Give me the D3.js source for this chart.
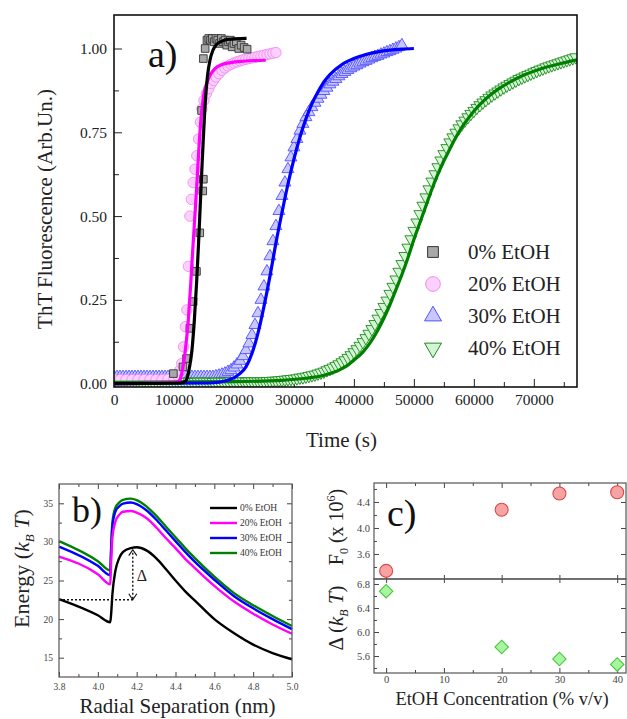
<!DOCTYPE html>
<html>
<head>
<meta charset="utf-8">
<script src="https://cdn.jsdelivr.net/npm/d3@7"></script>
<style>
  body { margin: 0; background: #fff; }
  svg { display: block; }
  svg text { font-family: "Liberation Serif", "Times New Roman", "DejaVu Serif", serif; }
</style>
</head>
<body>
<svg id="chart" width="627" height="719"></svg>
<script>
// ----------------------------
// Data
// ----------------------------
const seriesNames = ["0% EtOH", "20% EtOH", "30% EtOH", "40% EtOH"];
const seriesColors = ["#000000", "#ff00ff", "#0000ff", "#008000"];

// panel a) ThT kinetics
const timeTicks = [0, 10000, 20000, 30000, 40000, 50000, 60000, 70000];
const timeMinor = [5000, 15000, 25000, 35000, 45000, 55000, 65000, 75000];
const fluorTicks = [0, 0.25, 0.5, 0.75, 1.0];
const fluorMinor = [0.125, 0.375, 0.625, 0.875];

// measured points, [time, fluorescence]
const blackPts = [[9900,.03],[11500,.05],[12100,.075],[12650,.165],[13200,.245],[13750,.335],[14300,.45],
  [14800,.575],[14900,.61],[14600,.815],[14900,.97],[15200,1.0],[15500,1.025],[15800,1.03],[16100,1.025],
  [16400,1.03],[16700,1.02],[17000,1.03],[17300,1.025],[17600,1.015],[17900,1.03],[18200,1.02],[18500,1.025],
  [18800,1.01],[19100,1.02],[19400,1.025],[19700,1.005],[20000,1.015],[20400,1.02],[20800,1.0],[21200,1.01],
  [21700,1.003],[22200,.998]];
const pinkPts = [[0,.012],[1000,.012],[2000,.012],[3000,.012],[4000,.012],[5000,.012],[6000,.012],[7000,.012],
  [8000,.012],[9000,.013],[10000,.015],[10600,.025],[11000,.04],[11300,.06],[11600,.11],[11900,.17],[12150,.22],
  [12400,.35],[12650,.5],[12900,.55],[13200,.6],[13500,.64],[13800,.68],[14100,.73],[14400,.78],[14650,.82],
  [15000,.845],[15400,.865],[15800,.88],[16200,.895],[16600,.905],[17000,.915],[17500,.925],[18000,.935],
  [18500,.942],[19000,.948],[19500,.953],[20000,.957],[20500,.96],[21000,.963],[21500,.966],[22000,.968],
  [22500,.97],[23000,.972],[23500,.974],[24000,.976],[24500,.978],[25000,.98],[25500,.982],[26000,.984],
  [26500,.986],[27000,.988]];
// 30% and 40% were read every 500 s from t = 0
const sampleStep = 500;
const bluePts = [.02,.02,.02,.02,.02,.02,.02,.02,.02,.02,.02,.02,.02,.02,.02,.02,.02,.02,.02,.02,
  .02,.02,.02,.02,.02,.02,.02,.02,.02,.02,.02,.02,.02,.02,
  .022,.024,.027,.03,.035,.04,.048,.057,.068,.082,.1,.12,.145,.175,.21,.25,.29,.335,.38,.425,
  .47,.515,.56,.6,.64,.675,.705,.73,.755,.775,.795,.81,.825,.838,.85,.862,.873,.883,.893,.901,
  .909,.917,.924,.93,.936,.941,.946,.95,.955,.959,.963,.967,.971,.975,.978,.982,.985,.989,.992,.996,
  1.0,1.004,1.01];
const greenPts = [.006,.006,.005,.006,.006,.005,.006,.006,.006,.005,.006,.006,.006,.005,.006,.006,.006,
  .005,.006,.006,.006,.006,.005,.006,.006,.006,.006,.005,.006,.006,.006,.006,.006,.005,.006,.006,.006,
  .006,.006,.007,.006,.006,.007,.007,.006,.007,.007,.007,.007,.007,.007,
  .008,.008,.009,.009,.01,.011,.012,.013,.014,.015,.016,.018,.019,.021,.023,.025,.027,.03,.033,.036,
  .04,.044,.048,.053,.058,.064,.07,.077,.085,.094,.103,.113,.124,.136,.149,.163,.178,.194,.211,.229,
  .248,.268,.289,.311,.334,.357,.381,.406,.431,.456,.481,.506,.531,.556,.58,.603,.625,.646,.666,.685,
  .703,.72,.735,.749,.762,.774,.785,.795,.805,.814,.823,.831,.839,.846,.853,.86,.866,.872,.878,.884,
  .889,.894,.899,.904,.909,.913,.917,.921,.925,.929,.933,.937,.94,.944,.947,.95,.953,.956,.959,.962,
  .965,.968,.971,.974];

// fitted curves, [time, fluorescence]
const blackFit = [[0,0],[11000,.002],[11800,.006],[12100,.012],[12500,.04],[13000,.1],[13400,.19],[13800,.31],
  [14100,.42],[14400,.54],[14700,.66],[15000,.77],[15300,.86],[15600,.92],[16000,.965],[16500,.995],
  [17100,1.012],[18000,1.022],[19000,1.027],[22100,1.03]];
const pinkFit = [[0,0],[10500,.004],[11000,.012],[11400,.04],[11830,.09],[12390,.19],[12800,.3],[13100,.39],
  [13450,.49],[13800,.59],[14150,.7],[14500,.79],[14900,.855],[15440,.895],[16000,.92],[16830,.94],
  [18000,.952],[19500,.958],[21500,.962],[25300,.965]];
const blueFit = [[0,0],[16000,.002],[19000,.01],[21000,.03],[22000,.05],[23000,.09],[24000,.15],[25000,.23],
  [26000,.32],[27000,.42],[28000,.51],[29000,.595],[30000,.67],[31000,.735],[32000,.79],[33000,.835],
  [34000,.87],[35000,.9],[36000,.922],[38000,.952],[40000,.97],[42000,.982],[44000,.99],[46000,.995],
  [48000,.998],[50000,1.0]];
const greenFit = [[0,.004],[20000,.006],[28000,.01],[32000,.016],[35000,.025],[37000,.036],[38000,.045],
  [39000,.055],[40000,.07],[41000,.085],[42000,.105],[43000,.13],[44000,.16],[45000,.195],[46000,.235],
  [47000,.28],[48000,.325],[49000,.375],[50000,.43],[51000,.48],[52000,.53],[53000,.58],[54000,.625],
  [55000,.665],[56000,.7],[57000,.735],[58000,.765],[59000,.79],[60000,.813],[62000,.85],[64000,.878],
  [66000,.9],[68000,.918],[70000,.932],[72000,.944],[74000,.953],[77200,.966]];

// panel b) interaction energy
const radialX = [3.8, 4.0, 4.064, 4.068, 4.075, 4.09, 4.11, 4.13, 4.17, 4.2, 4.25, 4.3, 4.35, 4.4, 4.45, 4.5,
  4.6, 4.7, 4.8, 4.9, 5.0];
const energy0 = [22.6,20.5,19.6,20.5,23.2,26.2,27.9,28.7,29.2,29.3,28.9,27.9,26.5,25.0,23.6,22.4,20.0,18.2,16.7,15.6,14.8];
const energy20 = [28.1,25.8,24.5,27.0,30.6,32.6,33.5,33.9,34.0,33.8,33.1,31.9,30.5,29.2,27.8,26.6,24.3,22.3,20.7,19.3,18.1];
const energy30 = [29.4,26.9,25.7,28.5,32.0,33.9,34.6,34.95,35.1,34.9,34.1,32.9,31.5,30.1,28.7,27.4,25.1,23.0,21.4,20.0,18.7];
const energy40 = [30.1,27.5,26.3,29.0,32.5,34.4,35.1,35.45,35.6,35.4,34.6,33.4,32.0,30.6,29.2,27.9,25.5,23.4,21.8,20.4,19.1];
const radialTicks = [3.8, 4.0, 4.2, 4.4, 4.6, 4.8, 5.0];
const radialMinor = [3.9, 4.1, 4.3, 4.5, 4.7, 4.9];
const energyTicks = [15, 20, 25, 30, 35];
const energyMinor = [17.5, 22.5, 27.5, 32.5];
const barrierBase = 22.5, barrierTop = 29.0, barrierX = 4.18;

// panel c) fit parameters
const etohConc = [0, 20, 30, 40];
const f0Values = [3.34, 4.28, 4.53, 4.55];
const deltaValues = [6.68, 5.75, 5.55, 5.46];
const concTicks = [0, 10, 20, 30, 40];
const concMinor = [5, 15, 25, 35];
const f0Ticks = [3.6, 4.0, 4.4];
const f0Minor = [3.4, 3.8, 4.2, 4.6];
const deltaTicks = [5.6, 6.0, 6.4, 6.8];
const deltaMinor = [5.4, 5.8, 6.2, 6.6];

// ----------------------------
// Setup
// ----------------------------
const serif = "Liberation Serif, Times New Roman, DejaVu Serif, serif";
const svg = d3.select("#chart");
svg.append("rect").attr("width", 627).attr("height", 719).attr("fill", "#fff");

// draw a set of ticks with d3's axis generator, domain path removed
function ticks(gen, pos, values, size, fmt, pad, fs, col) {
  const g = svg.append("g").attr("transform", pos)
    .call(gen.tickValues(values).tickSize(size).tickPadding(pad)
      .tickFormat(fmt ? fmt : () => ""));
  g.select(".domain").remove();
  g.attr("font-family", serif).attr("font-size", fs);
  g.selectAll("line").attr("stroke", col);
  g.selectAll("text").attr("fill", col);
  return g;
}

function frame(x0, y0, x1, y1, col, w) {
  svg.append("rect").attr("x", x0).attr("y", y0).attr("width", x1 - x0).attr("height", y1 - y0)
    .attr("fill", "none").attr("stroke", col).attr("stroke-width", w);
}

// ----------------------------
// Panel a
// ----------------------------
const pa = { left: 114, right: 577, top: 15, bottom: 387 };
const xA = d3.scaleLinear().domain([0, 77200]).range([pa.left, pa.right]);
const yA = d3.scaleLinear().domain([-0.01, 1.10]).range([pa.bottom, pa.top]);

ticks(d3.axisBottom(xA), `translate(0,${pa.bottom})`, timeTicks, -8, d3.format("d"), 7, 15.5, "#222");
ticks(d3.axisBottom(xA), `translate(0,${pa.bottom})`, timeMinor, -5, null, 7, 15.5, "#222");
ticks(d3.axisLeft(yA), `translate(${pa.left},0)`, fluorTicks, -8, d3.format(".2f"), 7, 15.5, "#222");
ticks(d3.axisLeft(yA), `translate(${pa.left},0)`, fluorMinor, -5, null, 7, 15.5, "#222");

const plotA = svg.append("g");
plotA.append("clipPath").attr("id", "clipA").append("rect")
  .attr("x", pa.left).attr("y", pa.top).attr("width", pa.right - pa.left).attr("height", pa.bottom - pa.top);
const inner = plotA.append("g").attr("clip-path", "url(#clipA)");

const markerStyle = [
  { type: d3.symbolSquare, size: 58, rot: 0, fill: "#a8a8a8", stroke: "#333" },
  { type: d3.symbolCircle, size: 85, rot: 0, fill: "#fcd0fc", stroke: "#f08cf0" },
  { type: d3.symbolTriangle, size: 62, rot: 0, fill: "#c8c8ff", stroke: "#5050ff" },
  { type: d3.symbolTriangle, size: 62, rot: 180, fill: "#d4f5d4", stroke: "#1d8a1d" }
];

const blueSeries = bluePts.map((v, i) => [i * sampleStep, v]);
const greenSeries = greenPts.map((v, i) => [i * sampleStep, v]);
const fitSets = [blackFit, pinkFit, blueFit, greenFit];

function drawMarkers(idx, pts) {
  const st = markerStyle[idx];
  inner.append("g").selectAll("path").data(pts).join("path")
    .attr("d", d3.symbol(st.type, st.size))
    .attr("transform", d => `translate(${xA(d[0])},${yA(d[1])}) rotate(${st.rot})`)
    .attr("fill", st.fill).attr("stroke", st.stroke).attr("stroke-width", 0.9);
}
drawMarkers(2, blueSeries);
drawMarkers(3, greenSeries);
drawMarkers(1, pinkPts);
drawMarkers(0, blackPts);

const lineA = d3.line().x(d => xA(d[0])).y(d => yA(d[1])).curve(d3.curveMonotoneX);
[3, 2, 1, 0].forEach(i => {
  inner.append("path").datum(fitSets[i]).attr("d", lineA)
    .attr("fill", "none").attr("stroke", seriesColors[i]).attr("stroke-width", 3.2);
});

frame(pa.left, pa.top, pa.right, pa.bottom, "#111", 1.6);

svg.append("text").attr("x", 148).attr("y", 67).attr("font-family", serif).attr("font-size", 38)
  .attr("fill", "#111").text("a)");

// legend a
const legA = d3.scalePoint().domain(seriesNames).range([252, 348]);
seriesNames.forEach((name, i) => {
  const st = markerStyle[i];
  svg.append("path").attr("d", d3.symbol(st.type, st.size * 2))
    .attr("transform", `translate(433,${legA(name)}) rotate(${st.rot})`)
    .attr("fill", st.fill).attr("stroke", st.stroke).attr("stroke-width", 1);
  svg.append("text").attr("x", 468).attr("y", legA(name)).attr("dy", "0.35em")
    .attr("font-family", serif).attr("font-size", 21).attr("fill", "#222").text(name);
});

svg.append("text").attr("transform", `translate(52,${(pa.top + pa.bottom) / 2 + 8}) rotate(-90)`)
  .attr("text-anchor", "middle").attr("font-family", serif).attr("font-size", 21).attr("fill", "#222")
  .text("ThT Fluorescence (Arb.Un.)");
svg.append("text").attr("x", (pa.left + pa.right) / 2 - 4).attr("y", 447).attr("text-anchor", "middle")
  .attr("font-family", serif).attr("font-size", 21).attr("fill", "#222").text("Time (s)");

// ----------------------------
// Panel b
// ----------------------------
const pb = { left: 59, right: 292, top: 484, bottom: 677 };
const xB = d3.scaleLinear().domain([3.8, 5.0]).range([pb.left, pb.right]);
const yB = d3.scaleLinear().domain([12.5, 37.5]).range([pb.bottom, pb.top]);
const gray = "#444";

ticks(d3.axisBottom(xB), `translate(0,${pb.bottom})`, radialTicks, -5, d3.format(".1f"), 6, 9.5, gray);
ticks(d3.axisBottom(xB), `translate(0,${pb.bottom})`, radialMinor, -3, null, 6, 9.5, gray);
ticks(d3.axisTop(xB), `translate(0,${pb.top})`, radialTicks, -5, null, 6, 9.5, gray);
ticks(d3.axisTop(xB), `translate(0,${pb.top})`, radialMinor, -3, null, 6, 9.5, gray);
ticks(d3.axisLeft(yB), `translate(${pb.left},0)`, energyTicks, -5, d3.format("d"), 6, 9.5, gray);
ticks(d3.axisLeft(yB), `translate(${pb.left},0)`, energyMinor, -3, null, 6, 9.5, gray);
ticks(d3.axisRight(yB), `translate(${pb.right},0)`, energyTicks, -5, null, 6, 9.5, gray);
ticks(d3.axisRight(yB), `translate(${pb.right},0)`, energyMinor, -3, null, 6, 9.5, gray);

const energySets = [energy0, energy20, energy30, energy40];
const lineB = d3.line().x((d, i) => xB(radialX[i])).y(d => yB(d)).curve(d3.curveMonotoneX);
[3, 2, 1, 0].forEach(i => {
  svg.append("path").datum(energySets[i]).attr("d", lineB)
    .attr("fill", "none").attr("stroke", seriesColors[i]).attr("stroke-width", 2.4);
});

// barrier height annotation
svg.append("line").attr("x1", xB(3.8)).attr("x2", xB(barrierX)).attr("y1", yB(barrierBase)).attr("y2", yB(barrierBase))
  .attr("stroke", "#111").attr("stroke-width", 1.4).attr("stroke-dasharray", "2,2");
svg.append("line").attr("x1", xB(barrierX)).attr("x2", xB(barrierX)).attr("y1", yB(barrierBase) - 1).attr("y2", yB(barrierTop) + 1)
  .attr("stroke", "#111").attr("stroke-width", 1.4).attr("stroke-dasharray", "2,2");
// arrow heads: tip on the line end, arms pointing back along the arrow
[[barrierBase, -1], [barrierTop, 1]].forEach(([v, s]) => {
  const yy = yB(v), xx = xB(barrierX);
  svg.append("path").attr("d", `M${xx - 4},${yy + s * 6}L${xx},${yy}L${xx + 4},${yy + s * 6}`)
    .attr("fill", "none").attr("stroke", "#111").attr("stroke-width", 1.1);
});
svg.append("text").attr("x", xB(barrierX) + 4).attr("y", yB(25.7)).attr("dy", "0.35em")
  .attr("font-family", serif).attr("font-size", 16).attr("fill", "#222").text("Δ");

frame(pb.left, pb.top, pb.right, pb.bottom, "#555", 1.2);

svg.append("text").attr("x", 72).attr("y", 522).attr("font-family", serif).attr("font-size", 36)
  .attr("fill", "#111").text("b)");

const legB = d3.scalePoint().domain(seriesNames).range([508, 553]);
seriesNames.forEach((name, i) => {
  svg.append("line").attr("x1", 210).attr("x2", 237).attr("y1", legB(name)).attr("y2", legB(name))
    .attr("stroke", seriesColors[i]).attr("stroke-width", 2.4);
  svg.append("text").attr("x", 240).attr("y", legB(name)).attr("dy", "0.35em")
    .attr("font-family", serif).attr("font-size", 9.5).attr("fill", "#333").text(name);
});

const energyLabel = svg.append("text").attr("transform", `translate(29,${(pb.top + pb.bottom) / 2 - 12}) rotate(-90)`)
  .attr("text-anchor", "middle").attr("font-family", serif).attr("font-size", 22).attr("fill", "#222");
energyLabel.append("tspan").text("Energy (");
energyLabel.append("tspan").attr("font-style", "italic").text("k");
energyLabel.append("tspan").attr("font-style", "italic").attr("font-size", 13).attr("dy", 5).text("B");
energyLabel.append("tspan").attr("font-style", "italic").attr("dy", -5).text(" T");
energyLabel.append("tspan").text(")");

svg.append("text").attr("x", (pb.left + pb.right) / 2 + 2).attr("y", 713).attr("text-anchor", "middle")
  .attr("font-family", serif).attr("font-size", 21).attr("fill", "#222").text("Radial Separation (nm)");

// ----------------------------
// Panel c
// ----------------------------
const pc = { left: 374, right: 627, top: 483, mid: 579, bottom: 673 };
const xC = d3.scaleLinear().domain([-2.1, 41.7]).range([pc.left, pc.right]);
const yC1 = d3.scaleLinear().domain([3.215, 4.692]).range([pc.mid, pc.top]);
const yC2 = d3.scaleLinear().domain([5.317, 6.883]).range([pc.bottom, pc.mid]);

ticks(d3.axisBottom(xC), `translate(0,${pc.bottom})`, concTicks, -5, d3.format("d"), 3, 10.5, gray);
ticks(d3.axisBottom(xC), `translate(0,${pc.bottom})`, concMinor, -3, null, 3, 10.5, gray);
ticks(d3.axisTop(xC), `translate(0,${pc.top})`, concTicks, -5, null, 5, 10.5, gray);
ticks(d3.axisTop(xC), `translate(0,${pc.top})`, concMinor, -3, null, 5, 10.5, gray);
ticks(d3.axisBottom(xC), `translate(0,${pc.mid})`, concTicks, -4, null, 5, 10.5, gray);
ticks(d3.axisTop(xC), `translate(0,${pc.mid})`, concTicks, -4, null, 5, 10.5, gray);
ticks(d3.axisLeft(yC1), `translate(${pc.left},0)`, f0Ticks, -5, d3.format(".1f"), 4, 10.5, gray);
ticks(d3.axisLeft(yC1), `translate(${pc.left},0)`, f0Minor, -3, null, 4, 10.5, gray);
ticks(d3.axisLeft(yC2), `translate(${pc.left},0)`, deltaTicks, -5, d3.format(".1f"), 4, 10.5, gray);
ticks(d3.axisLeft(yC2), `translate(${pc.left},0)`, deltaMinor, -3, null, 4, 10.5, gray);
ticks(d3.axisRight(yC1), `translate(${pc.right - 1},0)`, f0Ticks, -5, null, 4, 10.5, gray);
ticks(d3.axisRight(yC2), `translate(${pc.right - 1},0)`, deltaTicks, -5, null, 4, 10.5, gray);

frame(pc.left, pc.top, pc.right - 1, pc.mid, "#555", 1.2);
frame(pc.left, pc.mid, pc.right - 1, pc.bottom, "#555", 1.2);

svg.append("g").selectAll("circle").data(etohConc).join("circle")
  .attr("cx", d => xC(d)).attr("cy", (d, i) => yC1(f0Values[i])).attr("r", 6.5)
  .attr("fill", "#f5a3a3").attr("stroke", "#e04545").attr("stroke-width", 1.1);
svg.append("g").selectAll("path").data(etohConc).join("path")
  .attr("d", d3.symbol(d3.symbolSquare, 90))
  .attr("transform", (d, i) => `translate(${xC(d)},${yC2(deltaValues[i])}) rotate(45)`)
  .attr("fill", "#a8f5a0").attr("stroke", "#48c840").attr("stroke-width", 1.1);

svg.append("text").attr("x", 387).attr("y", 526).attr("font-family", serif).attr("font-size", 38)
  .attr("fill", "#111").text("c)");

const f0Label = svg.append("text").attr("transform", `translate(343,${(pc.top + pc.mid) / 2 - 4}) rotate(-90)`)
  .attr("text-anchor", "middle").attr("font-family", serif).attr("font-size", 20).attr("fill", "#222");
f0Label.append("tspan").text("F");
f0Label.append("tspan").attr("font-size", 12).attr("dy", 5).text("0");
f0Label.append("tspan").attr("dy", -5).text(" (x 10");
f0Label.append("tspan").attr("font-size", 12).attr("dy", -8).text("6");
f0Label.append("tspan").attr("dy", 8).text(")");

const deltaLabel = svg.append("text").attr("transform", `translate(343,${(pc.mid + pc.bottom) / 2 - 8}) rotate(-90)`)
  .attr("text-anchor", "middle").attr("font-family", serif).attr("font-size", 21).attr("fill", "#222");
deltaLabel.append("tspan").text("Δ (");
deltaLabel.append("tspan").attr("font-style", "italic").text("k");
deltaLabel.append("tspan").attr("font-style", "italic").attr("font-size", 12).attr("dy", 5).text("B");
deltaLabel.append("tspan").attr("font-style", "italic").attr("dy", -5).text(" T");
deltaLabel.append("tspan").text(")");

svg.append("text").attr("x", 502).attr("y", 705).attr("text-anchor", "middle")
  .attr("font-family", serif).attr("font-size", 18.5).attr("fill", "#222").text("EtOH Concentration (% v/v)");
</script>
</body>
</html>
